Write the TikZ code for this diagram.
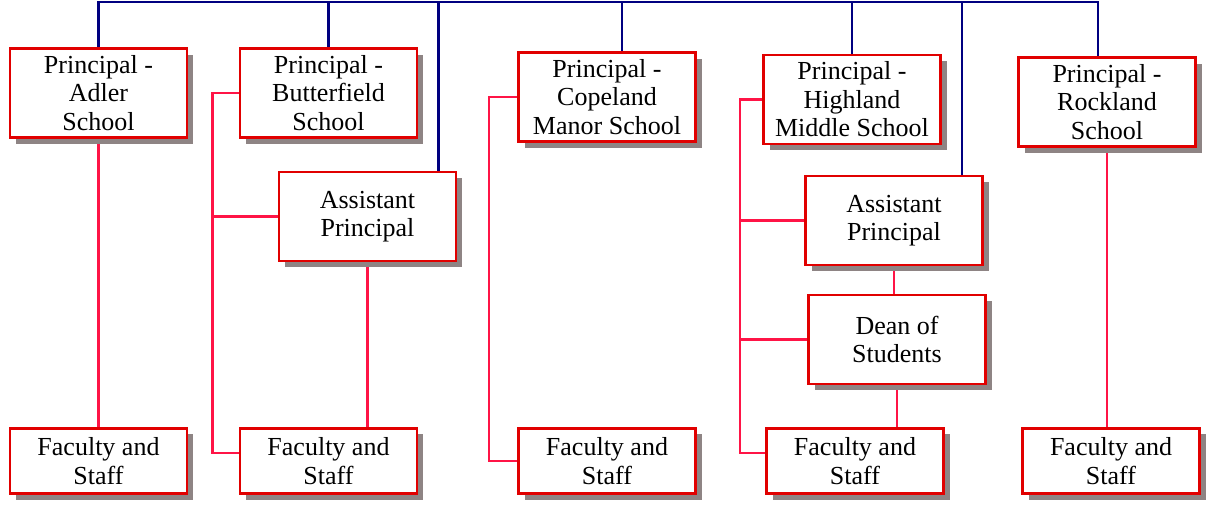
\documentclass[tikz,border=0pt]{standalone}
\usepackage{fontspec}
\setmainfont{Liberation Serif}
\usetikzlibrary{shadows,backgrounds}
\definecolor{navy}{RGB}{0,0,128}
\definecolor{boxred}{RGB}{225,0,0}
\definecolor{linkred}{RGB}{255,20,70}
\definecolor{shade}{RGB}{142,132,132}
\tikzset{
  post/.style={draw=boxred,line width=2.8pt,fill=white,minimum width=177pt,minimum height=89pt,
    align=center,inner sep=0pt,font=\fontsize{26}{28.5}\selectfont,
    drop shadow={fill=shade,opacity=1,shadow xshift=6pt,shadow yshift=-6pt}},
  staff/.style={post,minimum height=65.5pt},
  bus/.style={navy,line width=2.4pt},
  link/.style={linkred,line width=2.4pt},
}
\begin{document}
\begin{tikzpicture}[x=1pt,y=-1pt]
\useasboundingbox (0,0) rectangle (1209,506);
\coordinate (bar) at (0,2);
\node[post] (adler) at (98.5,93) {Principal -\\Adler\\School};
\node[post] (butter) at (328.5,93) {Principal -\\Butterfield\\School};
\node[post] (butterap) at (367.5,216.5) {Assistant\\Principal};
\node[post] (cope) at (607,97) {Principal -\\Copeland\\Manor School};
\node[post] (high) at (852,99.5) {Principal -\\Highland\\Middle School};
\node[post] (highap) at (894,220.5) {Assistant\\Principal};
\node[post] (dean) at (897,339.5) {Dean of\\Students};
\node[post] (rock) at (1107,102) {Principal -\\Rockland\\School};
\foreach \n/\x in {adler/98.5,butter/328.5,cope/607,high/855,rock/1111}
  \node[staff] (\n fs) at (\x,461) {Faculty and\\Staff};
\begin{scope}[on background layer]
% superintendent bus
\draw[bus] (adler.north) -- (adler.north |- bar) -- ([xshift=-9pt]rock.north |- bar) -- ([xshift=-9pt]rock.north);
\draw[bus] (butter.north) -- (butter.north |- bar);
\draw[bus] ([xshift=-19pt]butterap.north east) -- ([xshift=-19pt]butterap.north east |- bar);
\draw[bus] ([xshift=15pt]cope.north) -- ([xshift=15pt]cope.north |- bar);
\draw[bus] (high.north) -- (high.north |- bar);
\draw[bus] ([xshift=-22pt]highap.north east) -- ([xshift=-22pt]highap.north east |- bar);
% school links
\draw[link] (adler.south) -- (adlerfs.north);
\coordinate (bspine) at ([xshift=-26pt]butter.west);
\draw[link] (butter.west) -- (bspine) |- ([yshift=8pt]butterfs.west);
\draw[link] (butterap.west) -- (butterap.west -| bspine);
\draw[link] (butterap.south) -- (butterap.south |- butterfs.north);
\draw[link] (cope.west) -- ++(-28,0) |- (copefs.west);
\coordinate (hspine) at ([xshift=-22pt]high.west);
\draw[link] (high.west) -- (hspine) |- ([yshift=8pt]highfs.west);
\draw[link] (highap.west) -- (highap.west -| hspine);
\draw[link] (dean.west) -- (dean.west -| hspine);
\draw[link] (highap.south) -- (highap.south |- dean.north);
\draw[link] (dean.south) -- (dean.south |- highfs.north);
\draw[link] (rock.south) -- (rock.south |- rockfs.north);
\end{scope}
\end{tikzpicture}
\end{document}
